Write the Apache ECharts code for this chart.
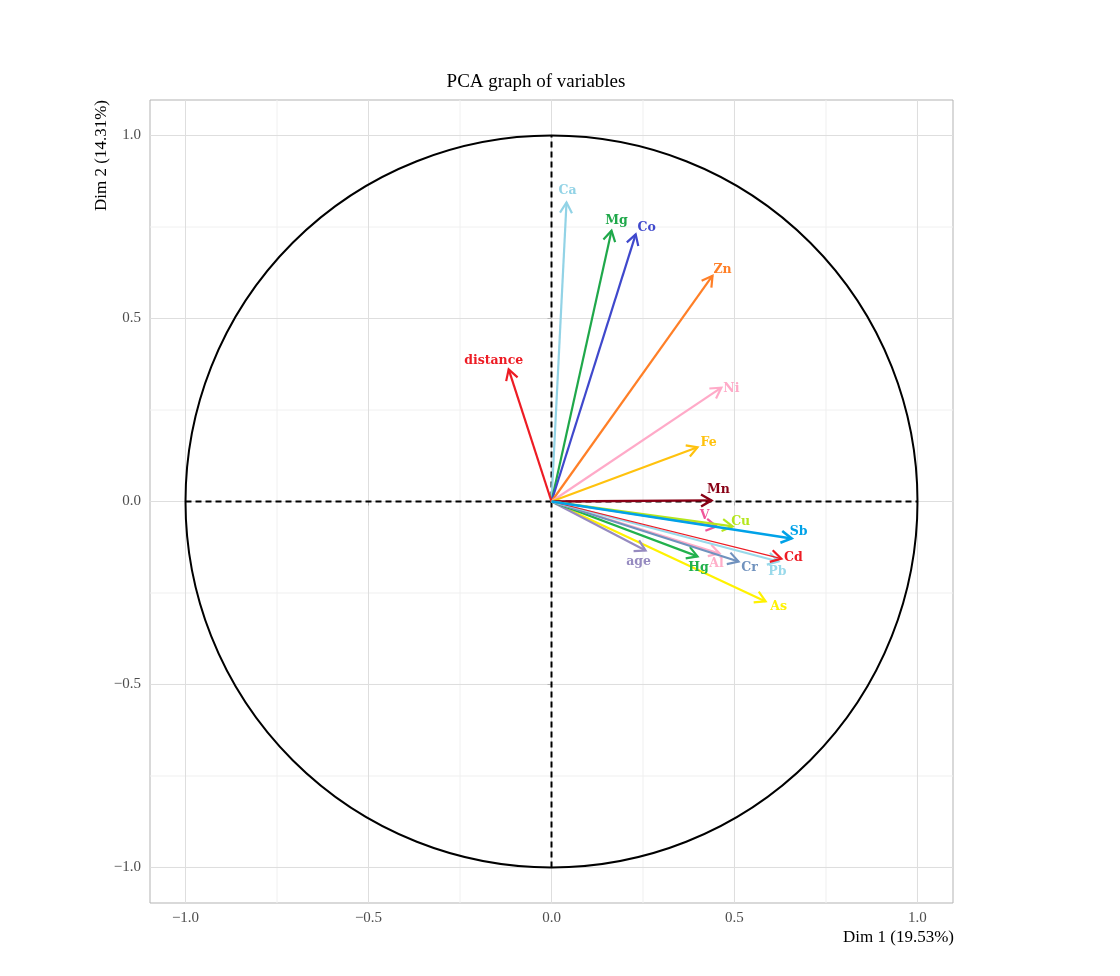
<!DOCTYPE html>
<html>
<head>
<meta charset="utf-8">
<script src="https://cdn.jsdelivr.net/npm/echarts@6/dist/echarts.min.js"></script>
<style>
html,body{margin:0;padding:0;background:#fff;}
#chart{width:1120px;height:976px;}
</style>
</head>
<body>
<div id="chart"></div>
<script>
// ---------- data ----------
const variables = ['Ca','Mg','Co','Zn','Ni','Fe','Mn','distance','As','age','Hg','Al','Cr','Pb','Cd','V','Cu','Sb'];
const dim1 = [0.041, 0.164, 0.230, 0.440, 0.464, 0.399, 0.437, -0.117, 0.585, 0.257, 0.399, 0.459, 0.511, 0.620, 0.628, 0.451, 0.495, 0.656];
const dim2 = [0.817, 0.740, 0.730, 0.617, 0.311, 0.148, 0.003, 0.361, -0.273, -0.134, -0.150, -0.142, -0.164, -0.164, -0.156, -0.068, -0.068, -0.101];
const tickValues = [-1.0, -0.5, 0.0, 0.5, 1.0];
const minorGrid = [-0.75, -0.25, 0.25, 0.75];
const titleText = 'PCA graph of variables';
const xName = 'Dim 1 (19.53%)';
const yName = 'Dim 2 (14.31%)';

// ---------- styles ----------
const colors = {
  Ca:'#92D3E6', Mg:'#1FA84A', Co:'#3F48CC', Zn:'#FF7F27', Ni:'#FFAAC8', Fe:'#FFC20E',
  Mn:'#880015', distance:'#ED1C24', As:'#FFF200', age:'#968BC0', Hg:'#22B14C', Al:'#FFAEC9',
  Cr:'#7092BE', Pb:'#99D9EA', Cd:'#ED1C24', V:'#F0559A', Cu:'#B5E61D', Sb:'#00A2E8'
};
const widths = {Cd:1.2, Sb:2.6, Mn:2.4};
const labelNudge = {
  Ca:[1,-12], Mg:[5,-10], Co:[11,-7], Zn:[10,-6], Ni:[10,1], Fe:[11,-5], Mn:[7,-11],
  distance:[-15,-9], V:[-12,-11], Cu:[8,-5], Sb:[7,-7], Cd:[12,-1], Pb:[-1,10],
  Cr:[11,6], Al:[-3,10], Hg:[1,11], age:[-7,11], As:[13,5]
};
const serif = '"Liberation Serif","Times New Roman",serif';
const labelFont = 'bold 12.5px "DejaVu Serif",serif';

const arrowData = variables.map((n, i) => ({name: n, value: [dim1[i], dim2[i]]}));
const gridData = [
  ...minorGrid.map(v => [v, 0]),
  ...tickValues.map(v => [v, 1])
];

function fmt(v) {
  const ok = tickValues.some(t => Math.abs(t - v) < 1e-6);
  if (!ok) return '';
  return (v < 0 ? '\u2212' : '') + Math.abs(v).toFixed(1);
}

const chart = echarts.init(document.getElementById('chart'), null, {renderer: 'canvas'});
const option = {
  animation: false,
  backgroundColor: '#ffffff',
  grid: {left: 150, top: 100, width: 803, height: 803, show: true, borderColor: '#B3B3B3', borderWidth: 1, backgroundColor: 'transparent'},
  xAxis: {
    type: 'value', min: -1.097, max: 1.097, splitNumber: 4,
    axisLine: {show: false},
    axisTick: {show: true, length: 4, lineStyle: {color: '#B3B3B3'}, customValues: tickValues},
    axisLabel: {show: true, margin: 8, color: '#4D4D4D', fontFamily: serif, fontSize: 15, formatter: fmt, customValues: tickValues},
    splitLine: {show: false}
  },
  yAxis: {
    type: 'value', min: -1.097, max: 1.097, splitNumber: 4,
    axisLine: {show: false},
    axisTick: {show: true, length: 4, lineStyle: {color: '#B3B3B3'}, customValues: tickValues},
    axisLabel: {show: true, margin: 9, color: '#4D4D4D', fontFamily: serif, fontSize: 15, formatter: fmt, customValues: tickValues},
    splitLine: {show: false}
  },
  title: {
    text: titleText, left: 531, top: 68, textAlign: 'center',
    textStyle: {fontFamily: serif, fontSize: 19, fontWeight: 'normal', color: '#000'}
  },
  graphic: [
    {type: 'text', right: 1120 - 954, top: 929, style: {text: xName, font: '17px ' + serif, fill: '#000'}},
    {type: 'text', x: 102, y: 100, rotation: Math.PI / 2, style: {text: yName, font: '17px ' + serif, fill: '#000', align: 'right', verticalAlign: 'middle'}}
  ],
  series: [
    {
      type: 'custom', silent: true, z: 0,
      data: gridData,
      renderItem: function (params, api) {
        const cs = params.coordSys;
        const v = api.value(0);
        const major = api.value(1) === 1;
        const col = major ? '#DEDEDE' : '#F0F0F0';
        const px = api.coord([v, 0])[0];
        const py = api.coord([0, v])[1];
        return {
          type: 'group',
          children: [
            {type: 'line', shape: {x1: px, y1: cs.y, x2: px, y2: cs.y + cs.height}, style: {stroke: col, lineWidth: 1}},
            {type: 'line', shape: {x1: cs.x, y1: py, x2: cs.x + cs.width, y2: py}, style: {stroke: col, lineWidth: 1}}
          ]
        };
      }
    },
    {
      type: 'custom', silent: true, z: 2,
      data: [[0, 0, 1]],
      renderItem: function (params, api) {
        const c = api.coord([api.value(0), api.value(1)]);
        const r = api.size([api.value(2), 0])[0];
        return {type: 'circle', shape: {cx: c[0], cy: c[1], r: r}, style: {stroke: '#000', lineWidth: 2, fill: null}};
      }
    },
    {
      type: 'line', silent: true, symbol: 'none', z: 3,
      data: [[-1, 0], [1, 0]],
      lineStyle: {color: '#000', width: 2, type: [6, 4]}
    },
    {
      type: 'line', silent: true, symbol: 'none', z: 3,
      data: [[0, -1], [0, 1]],
      lineStyle: {color: '#000', width: 2, type: [6, 4]}
    },
    {
      type: 'custom', silent: true, z: 5,
      data: arrowData,
      renderItem: function (params, api) {
        const name = variables[params.dataIndex];
        const col = colors[name];
        const lw = widths[name] || 2.2;
        const o = api.coord([0, 0]);
        const p = api.coord([api.value(0), api.value(1)]);
        const ang = Math.atan2(p[1] - o[1], p[0] - o[0]);
        const L = 12, a = Math.PI / 6;
        const pts = [
          [p[0] - L * Math.cos(ang - a), p[1] - L * Math.sin(ang - a)],
          [p[0], p[1]],
          [p[0] - L * Math.cos(ang + a), p[1] - L * Math.sin(ang + a)]
        ];
        const nd = labelNudge[name] || [0, 0];
        return {
          type: 'group',
          children: [
            {type: 'line', shape: {x1: o[0], y1: o[1], x2: p[0], y2: p[1]}, style: {stroke: col, lineWidth: lw}},
            {type: 'polyline', shape: {points: pts}, style: {stroke: col, lineWidth: Math.max(lw, 2.2), fill: null, lineJoin: 'miter'}},
            {type: 'text', x: p[0] + nd[0], y: p[1] + nd[1], style: {text: name, fill: col, font: labelFont, align: 'center', verticalAlign: 'middle'}}
          ]
        };
      }
    }
  ]
};
chart.setOption(option);
</script>
</body>
</html>
